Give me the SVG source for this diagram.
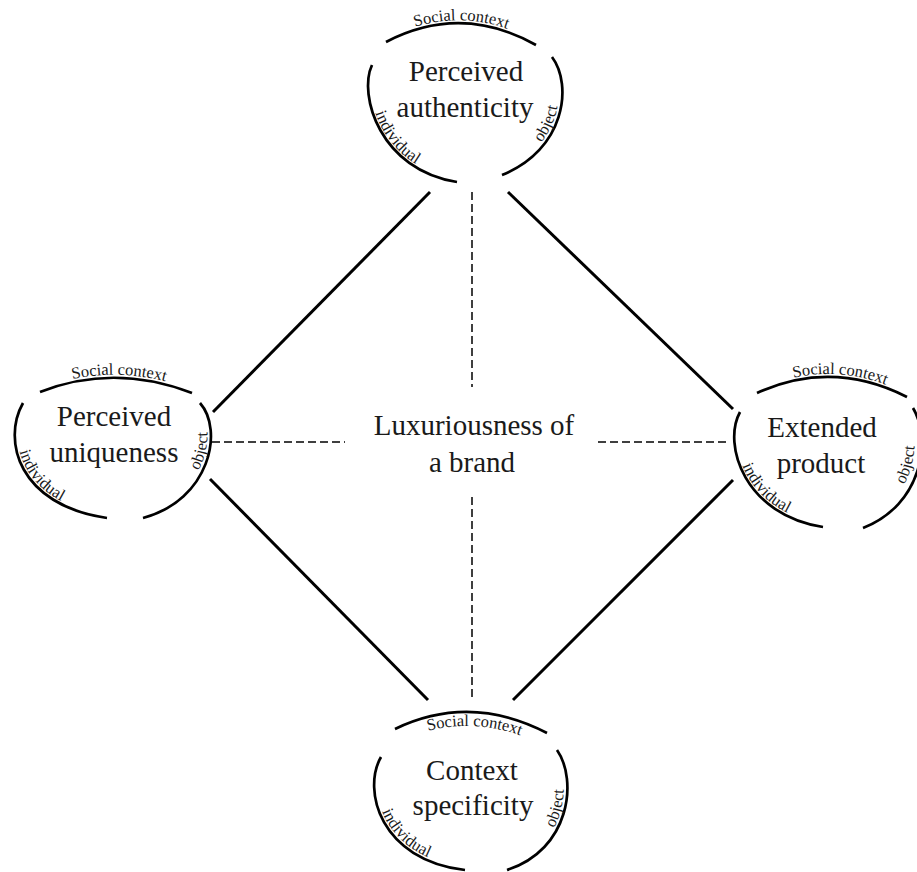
<svg xmlns="http://www.w3.org/2000/svg" xmlns:xlink="http://www.w3.org/1999/xlink" width="917" height="872" viewBox="0 0 917 872">
<style>
.arc{fill:none;stroke:#000;stroke-width:2.7}
.con{stroke:#000;stroke-width:3;fill:none}
.dash{stroke:#000;stroke-width:1.5;stroke-dasharray:8 4;fill:none}
.title{font-family:"Liberation Serif","DejaVu Serif",serif;font-size:29px;text-anchor:middle;fill:#1a1a1a}
.lbl{font-family:"Liberation Serif","DejaVu Serif",serif;font-size:16.5px;text-anchor:middle;fill:#1a1a1a}
</style>
<defs>
<path id="tSoc" d="M386,39 Q461,0 536,42"/>
<path id="tInd" d="M375,67 C361,96 382,167 457,179"/>
<path id="tObj" d="M501,172 C561,148 569,86 549,58"/>
<path id="lSoc" d="M40,389 Q114,360 192,390"/>
<path id="lInd" d="M26,405 C5,440 21,503 107,515"/>
<path id="lObj" d="M142,515 C206,497 220,430 197,404"/>
<path id="rSoc" d="M757,390 Q832,356 907,394"/>
<path id="rInd" d="M743,414 C725,446 747,512 823,524"/>
<path id="rObj" d="M860,524 C914,503 924,440 907,409"/>
<path id="bSoc" d="M395,743 Q470,707 547,747"/>
<path id="bInd" d="M384,759 C365,791 383,857 465,867"/>
<path id="bObj" d="M506,867 C566,848 574,781 554,751"/>
</defs>
<rect width="917" height="872" fill="#fff"/>
<g id="connectors">
<line class="con" x1="430" y1="192" x2="213" y2="412"/>
<line class="con" x1="508" y1="192" x2="733" y2="409"/>
<line class="con" x1="210" y1="479" x2="428" y2="700"/>
<line class="con" x1="733" y1="480" x2="513" y2="700"/>
<line class="dash" x1="472" y1="192" x2="472" y2="387"/>
<line class="dash" x1="472" y1="497" x2="472" y2="698"/>
<line class="dash" x1="212" y1="442" x2="345" y2="442"/>
<line class="dash" x1="598" y1="442" x2="728" y2="442"/>
</g>
<g id="center">
<text class="title" x="474" y="435">Luxuriousness of</text>
<text class="title" x="472" y="472">a brand</text>
</g>
<g id="node-authenticity">
<path class="arc" d="M386,42 Q461,3 536,45"/>
<path class="arc" d="M372,65 C358,95 380,170 457,182"/>
<path class="arc" d="M552,57 C573,85 565,150 502,175"/>
<text class="title" x="466" y="81">Perceived</text>
<text class="title" x="465" y="117">authenticity</text>
<text class="lbl"><textPath xlink:href="#tSoc" href="#tSoc" startOffset="50%">Social context</textPath></text>
<text class="lbl"><textPath xlink:href="#tInd" href="#tInd" startOffset="51%">individual</textPath></text>
<text class="lbl"><textPath xlink:href="#tObj" href="#tObj" startOffset="50%">object</textPath></text>
</g>
<g id="node-uniqueness">
<path class="arc" d="M40,392 Q114,363 192,393"/>
<path class="arc" d="M23,403 C2,440 18,505 107,518"/>
<path class="arc" d="M200,403 C224,430 210,500 143,518"/>
<text class="title" x="114" y="426">Perceived</text>
<text class="title" x="114" y="462">uniqueness</text>
<text class="lbl"><textPath xlink:href="#lSoc" href="#lSoc" startOffset="52%">Social context</textPath></text>
<text class="lbl"><textPath xlink:href="#lInd" href="#lInd" startOffset="50%">individual</textPath></text>
<text class="lbl"><textPath xlink:href="#lObj" href="#lObj" startOffset="65%">object</textPath></text>
</g>
<g id="node-extended">
<path class="arc" d="M757,393 Q832,359 907,397"/>
<path class="arc" d="M740,412 C722,445 745,515 823,527"/>
<path class="arc" d="M913,408 C932,440 922,505 863,528"/>
<text class="title" x="822" y="437">Extended</text>
<text class="title" x="821" y="473">product</text>
<text class="lbl"><textPath xlink:href="#rSoc" href="#rSoc" startOffset="55%">Social context</textPath></text>
<text class="lbl"><textPath xlink:href="#rInd" href="#rInd" startOffset="55%">individual</textPath></text>
<text class="lbl"><textPath xlink:href="#rObj" href="#rObj" startOffset="58%">object</textPath></text>
</g>
<g id="node-context">
<path class="arc" d="M395,729 Q470,693 547,733"/>
<path class="arc" d="M381,757 C362,790 380,860 465,870"/>
<path class="arc" d="M557,750 C578,780 570,850 507,870"/>
<text class="title" x="472" y="780">Context</text>
<text class="title" x="473" y="815">specificity</text>
<text class="lbl"><textPath xlink:href="#bSoc" href="#bSoc" startOffset="52%">Social context</textPath></text>
<text class="lbl"><textPath xlink:href="#bInd" href="#bInd" startOffset="55%">individual</textPath></text>
<text class="lbl"><textPath xlink:href="#bObj" href="#bObj" startOffset="58%">object</textPath></text>
</g>
</svg>
